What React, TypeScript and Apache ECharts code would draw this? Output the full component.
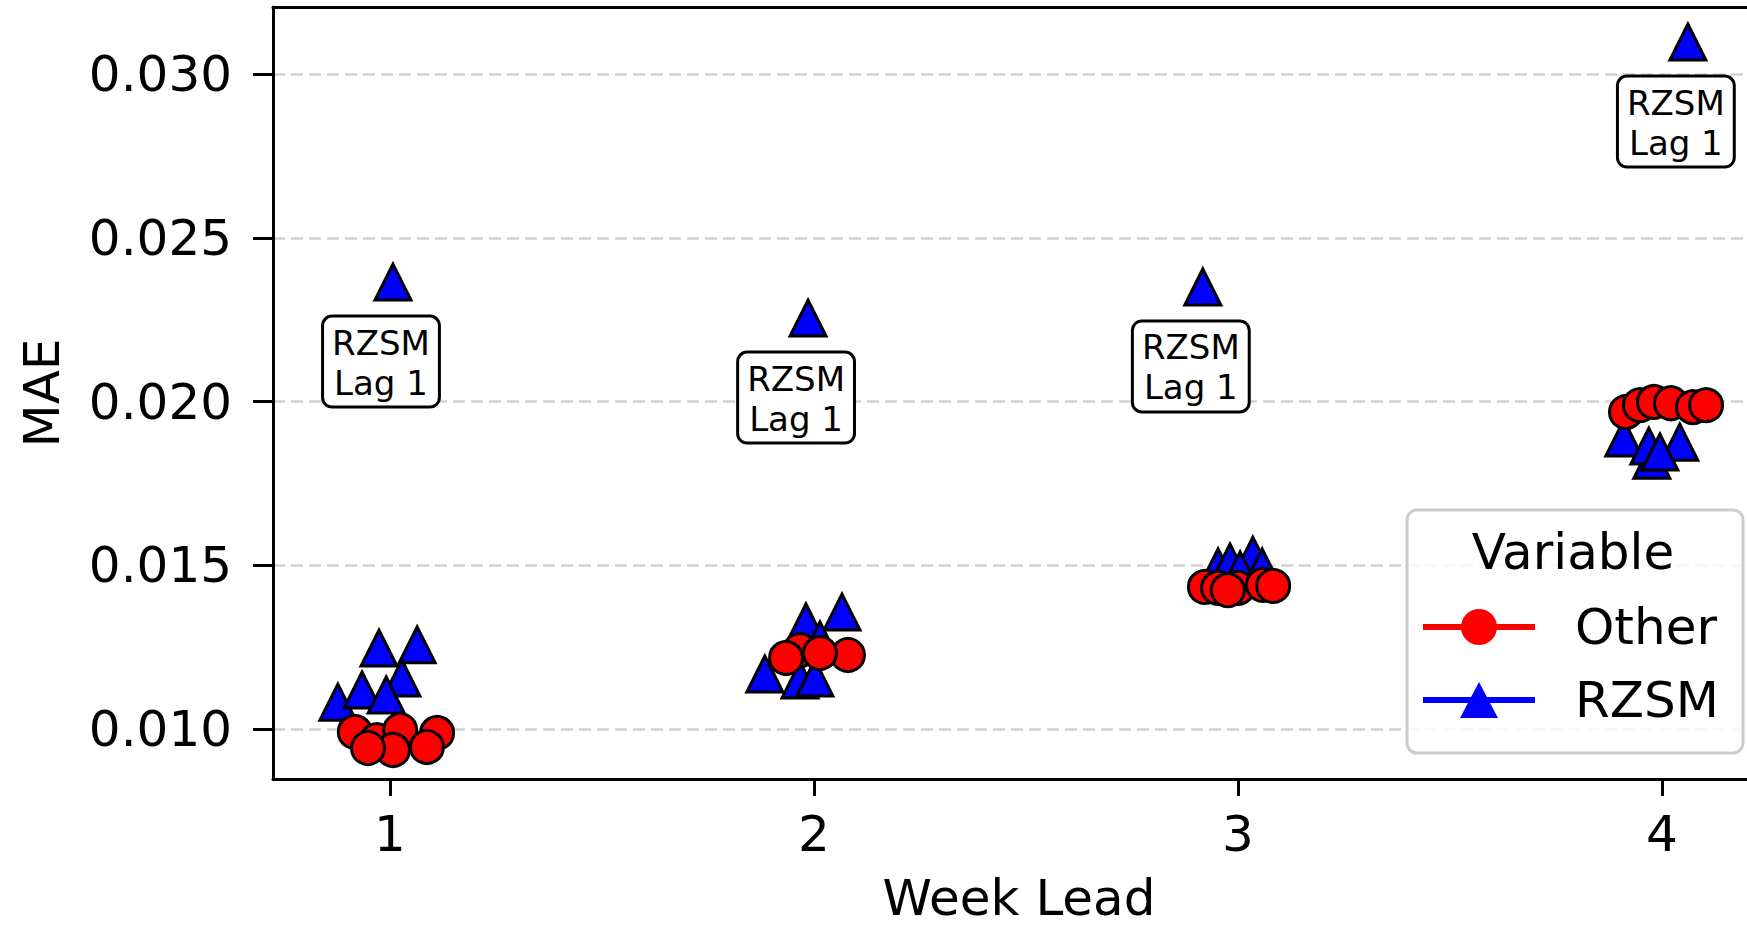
import React, { useEffect, useRef } from "react";
import * as echarts from "echarts";

const weekTicks = [1, 2, 3, 4];
const maeTicks = [0.01, 0.015, 0.02, 0.025, 0.03];

const rzsmW1 = [[0.877, 0.01082], [0.974, 0.01247], [1.064, 0.01257], [0.934, 0.01119], [1.028, 0.01156], [0.991, 0.01104]];
const rzsmW2 = [[1.884, 0.01168], [1.981, 0.01327], [2.066, 0.01357], [1.967, 0.0115], [2.002, 0.01156], [2.014, 0.01272]];
const rzsmW3 = [[2.953, 0.01495], [2.981, 0.0151], [3.035, 0.01531], [3.057, 0.01495], [3.005, 0.01486]];
const rzsmW4 = [[3.91, 0.01889], [3.976, 0.01821], [3.969, 0.01864], [4.042, 0.01876], [3.995, 0.01846]];
const rzsmLag1 = [[1.007, 0.02365], [1.986, 0.02255], [2.917, 0.0235], [4.061, 0.03098]];

const otherW1 = [[0.917, 0.00991], [0.969, 0.00966], [1.024, 0.00997], [1.111, 0.00988], [1.087, 0.00945], [1.007, 0.00936], [0.948, 0.00942]];
const otherW2 = [[1.967, 0.01241], [2.08, 0.01226], [1.934, 0.01217], [2.014, 0.01232]];
const otherW3 = [[2.922, 0.01434], [2.953, 0.01431], [3.0, 0.01431], [3.059, 0.0144], [3.083, 0.01437], [2.976, 0.01424]];
const otherW4 = [[3.915, 0.01968], [3.948, 0.01989], [3.981, 0.01999], [4.021, 0.01995], [4.073, 0.01983], [4.104, 0.01989]];

const annotationText = "RZSM\nLag 1";
const legendTitle = "Variable";

const FONT = "DejaVu Sans";

export default function App() {
  const ref = useRef<HTMLDivElement>(null);

  useEffect(() => {
    if (!ref.current) return;
    const chart = echarts.init(ref.current, undefined, { renderer: "svg" });

    const xMin = 0.724;
    const xMax = 4.2005;
    const yMin = 0.008473;
    const yMax = 0.03205;

    const annotated = rzsmLag1.map((p) => ({
      value: p,
      label: {
        show: true,
        formatter: annotationText,
        position: "bottom",
        distance: 16,
        offset: [-12, 0],
        fontSize: 34,
        fontFamily: FONT,
        color: "#000",
        lineHeight: 40,
        align: "center",
        backgroundColor: "#fff",
        borderColor: "#000",
        borderWidth: 3,
        borderRadius: 8,
        padding: [5, 8, 3, 8],
      },
    }));

    const rzsmIcon = "path://M0,15L112,15L112,21L0,21Z M56,0L75,36L37,36Z";
    const otherIcon = "path://M0,15L112,15L112,21L0,21Z M56,0A18,18 0 1 1 56,36A18,18 0 1 1 56,0Z";

    chart.setOption({
      animation: false,
      backgroundColor: "#fff",
      textStyle: { fontFamily: FONT },
      grid: { left: 273, top: 7, right: 0, bottom: 149, containLabel: false, outerBoundsMode: "none" },
      xAxis: [
        {
          type: "value",
          min: xMin,
          max: xMax,
          position: "bottom",
          name: "Week Lead",
          nameLocation: "middle",
          nameGap: 94,
          nameTextStyle: { fontSize: 50, color: "#000", fontFamily: FONT, padding: [0, 0, 0, 18] },
          axisLine: { show: true, onZero: false, lineStyle: { color: "#000", width: 3 } },
          axisTick: { show: true, customValues: weekTicks, length: 17, lineStyle: { color: "#000", width: 3 } },
          axisLabel: {
            show: true,
            customValues: weekTicks,
            margin: 30,
            fontSize: 50,
            color: "#000",
            fontFamily: FONT,
            formatter: (v: number) => String(v),
          },
          splitLine: { show: false },
        },
        {
          type: "value",
          min: xMin,
          max: xMax,
          position: "top",
          axisLine: { show: true, onZero: false, lineStyle: { color: "#000", width: 3 } },
          axisTick: { show: false },
          axisLabel: { show: false },
          splitLine: { show: false },
        },
      ],
      yAxis: {
        type: "value",
        min: yMin,
        max: yMax,
        name: "MAE",
        nameLocation: "middle",
        nameGap: 206,
        nameTextStyle: { fontSize: 50, color: "#000", fontFamily: FONT },
        axisLine: { show: true, onZero: false, lineStyle: { color: "#000", width: 3 } },
        axisTick: { show: true, customValues: maeTicks, length: 20, lineStyle: { color: "#000", width: 3 } },
        axisLabel: {
          show: true,
          customValues: maeTicks,
          margin: 41,
          fontSize: 50,
          color: "#000",
          fontFamily: FONT,
          formatter: (v: number) => v.toFixed(3),
        },
        splitLine: { show: true, lineStyle: { color: "#d4d4d4", width: 2.5, type: [12, 6] } },
      },
      legend: {
        show: true,
        orient: "vertical",
        left: 1423,
        top: 602,
        padding: 0,
        itemWidth: 112,
        itemHeight: 36,
        itemGap: 23,
        selectedMode: false,
        data: [
          { name: "Other", icon: otherIcon },
          { name: "RZSM", icon: rzsmIcon },
        ],
        itemStyle: { borderWidth: 0 },
        textStyle: { fontSize: 50, color: "#000", fontFamily: FONT, padding: [0, 0, 0, 35] },
      },
      graphic: [
        {
          type: "rect",
          z: 1,
          shape: { x: 1407, y: 510, width: 336, height: 243, r: 10 },
          style: { fill: "rgba(255,255,255,0.8)", stroke: "#cccccc", lineWidth: 3 },
          silent: true,
        },
        {
          type: "text",
          z: 2,
          x: 1573,
          y: 552,
          style: {
            text: legendTitle,
            fontSize: 50,
            fontFamily: FONT,
            fill: "#000",
            textAlign: "center",
            textVerticalAlign: "middle",
          },
          silent: true,
        },
      ],
      series: [
        {
          name: "RZSM",
          type: "scatter",
          xAxisIndex: 0,
          symbol: "triangle",
          symbolSize: 36,
          silent: true,
          itemStyle: { color: "#0000ff", borderColor: "#000", borderWidth: 3, opacity: 1 },
          emphasis: { disabled: true },
          data: [...rzsmW1, ...rzsmW2, ...rzsmW3, ...rzsmW4, ...annotated],
        },
        {
          name: "Other",
          type: "scatter",
          xAxisIndex: 0,
          symbol: "circle",
          symbolSize: 33,
          silent: true,
          itemStyle: { color: "#ff0000", borderColor: "#000", borderWidth: 3, opacity: 1 },
          emphasis: { disabled: true },
          data: [...otherW1, ...otherW2, ...otherW3, ...otherW4],
        },
      ],
    });

    return () => chart.dispose();
  }, []);

  return (
    <div
      ref={ref}
      style={{ position: "fixed", left: 0, top: 0, width: 1747, height: 928, background: "#fff" }}
    />
  );
}
